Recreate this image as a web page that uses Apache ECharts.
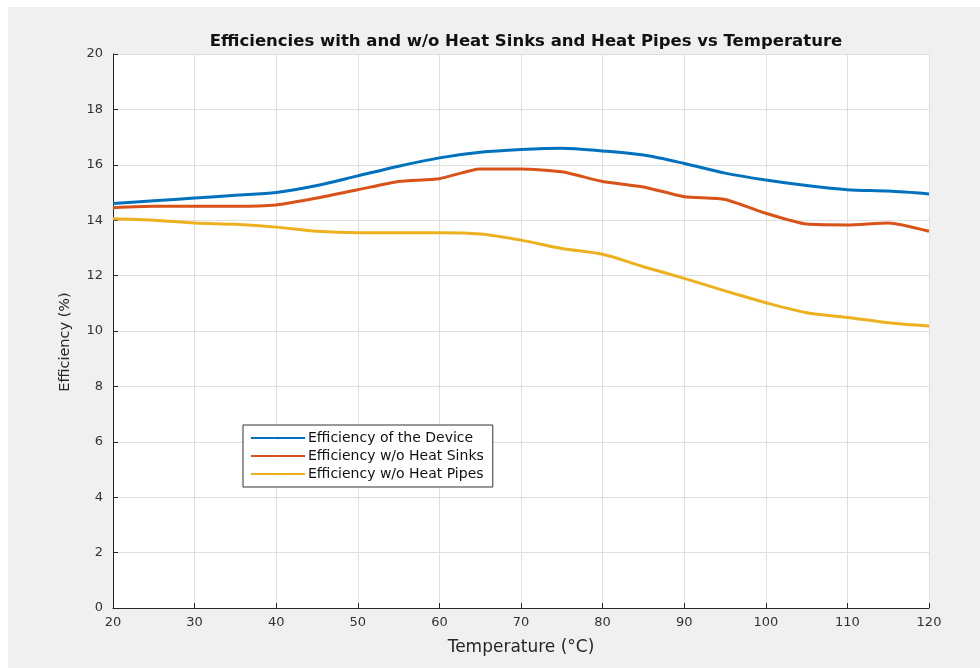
<!DOCTYPE html>
<html>
<head>
<meta charset="utf-8">
<script src="https://cdn.jsdelivr.net/npm/echarts@6/dist/echarts.min.js"></script>
<style>
  html, body { margin: 0; padding: 0; background: #fff; }
  #chart { width: 980px; height: 668px; }
</style>
</head>
<body>
<div id="chart"></div>
<script>
// temperature (°C) sampled every 5 degrees
var temps = [20, 25, 30, 35, 40, 45, 50, 55, 60, 65, 70, 75, 80, 85, 90, 95, 100, 105, 110, 115, 120];

// efficiencies (%)
var effDevice = [14.6, 14.7, 14.8, 14.9, 15.0, 15.25, 15.6, 15.95, 16.25, 16.45, 16.55, 16.6, 16.5, 16.35, 16.05, 15.7, 15.45, 15.25, 15.1, 15.05, 14.95];
var effNoSinks = [14.45, 14.5, 14.5, 14.5, 14.55, 14.8, 15.1, 15.4, 15.5, 15.85, 15.85, 15.75, 15.4, 15.2, 14.85, 14.75, 14.25, 13.86, 13.83, 13.9, 13.6];
var effNoPipes = [14.05, 14.0, 13.9, 13.85, 13.75, 13.6, 13.55, 13.55, 13.55, 13.5, 13.28, 12.98, 12.77, 12.32, 11.9, 11.45, 11.02, 10.66, 10.49, 10.3, 10.18];

var seriesNames = ['Efficiency of the Device', 'Efficiency w/o Heat Sinks', 'Efficiency w/o Heat Pipes'];
var seriesColors = ['#0072BD', '#D95319', '#EDB120'];

function pairs(ys) {
  return temps.map(function (t, i) { return [t, ys[i]]; });
}

var chart = echarts.init(document.getElementById('chart'));

var wide = '"DejaVu Sans", Arial, sans-serif';

chart.setOption({
  backgroundColor: '#f0f0f0',
  animation: false,
  color: seriesColors,
  // white strip along top and left edge of the screenshot
  graphic: [
    { type: 'rect', left: 0, top: 0, shape: { width: 980, height: 7 }, style: { fill: '#fff' } },
    { type: 'rect', left: 0, top: 0, shape: { width: 8, height: 668 }, style: { fill: '#fff' } }
  ],
  title: {
    text: 'Efficiencies with and w/o Heat Sinks and Heat Pipes vs Temperature',
    left: 521,
    top: 28,
    textAlign: 'center',
    textStyle: { fontFamily: wide, fontSize: 16.5, fontWeight: 'bold', color: '#111' }
  },
  legend: {
    orient: 'vertical',
    left: 243,
    top: 425,
    padding: [6, 9, 6, 7],
    itemGap: 4,
    itemWidth: 54,
    itemHeight: 3,
    backgroundColor: '#fff',
    borderColor: '#333',
    borderWidth: 1,
    borderRadius: 0,
    textStyle: { fontFamily: wide, fontSize: 14, color: '#111', padding: [0, 0, 0, -2] },
    data: seriesNames
  },
  grid: {
    left: 113,
    right: 51,
    top: 54,
    bottom: 60,
    show: true,
    backgroundColor: '#fff',
    borderWidth: 0
  },
  xAxis: {
    type: 'value',
    min: 20,
    max: 120,
    interval: 10,
    name: 'Temperature (°C)',
    nameLocation: 'middle',
    nameGap: 31,
    nameTextStyle: { fontFamily: wide, fontSize: 17, color: '#262626' },
    axisLine: { lineStyle: { color: '#262626', width: 1 } },
    axisTick: { inside: true, length: 5, lineStyle: { color: '#262626' } },
    axisLabel: { fontFamily: wide, fontSize: 13, color: '#333', margin: 8 },
    splitLine: { show: true, lineStyle: { color: '#dfdfdf', width: 1 } }
  },
  yAxis: {
    type: 'value',
    min: 0,
    max: 20,
    interval: 2,
    name: 'Efficiency (%)',
    nameLocation: 'middle',
    nameGap: 40,
    nameTextStyle: { fontFamily: wide, fontSize: 14.5, color: '#262626', padding: [0, 0, 0, -22] },
    axisLine: { show: true, lineStyle: { color: '#262626', width: 1 } },
    axisTick: { show: true, inside: true, length: 5, lineStyle: { color: '#262626' } },
    axisLabel: { fontFamily: wide, fontSize: 13, color: '#333', margin: 10 },
    splitLine: { show: true, lineStyle: { color: '#dfdfdf', width: 1 } }
  },
  series: [
    { name: seriesNames[0], type: 'line', data: pairs(effDevice), smooth: 0.3, symbol: 'none', lineStyle: { width: 3 } },
    { name: seriesNames[1], type: 'line', data: pairs(effNoSinks), smooth: 0.2, symbol: 'none', lineStyle: { width: 3 } },
    { name: seriesNames[2], type: 'line', data: pairs(effNoPipes), smooth: 0.3, symbol: 'none', lineStyle: { width: 3 } }
  ]
});
</script>
</body>
</html>
